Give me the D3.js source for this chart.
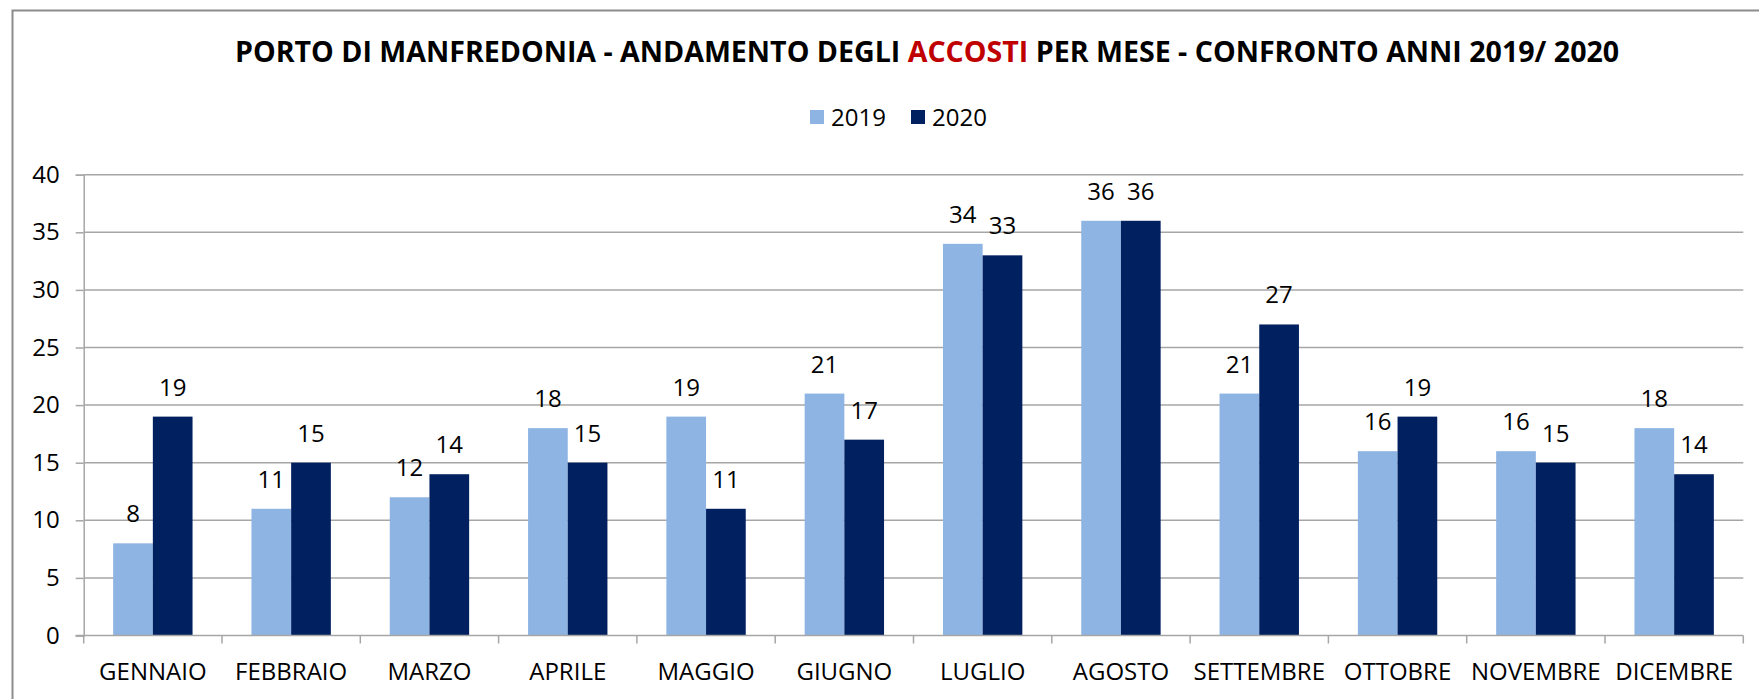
<!DOCTYPE html>
<html>
<head>
<meta charset="utf-8">
<script src="https://cdn.jsdelivr.net/npm/d3@7"></script>
<style>
  body { margin: 0; background: #fff; }
  svg { display: block; font-family: "Open Sans", sans-serif; }
</style>
</head>
<body>
<div id="chart-area"></div>
<script>
const MONTHS = ["GENNAIO", "FEBBRAIO", "MARZO", "APRILE", "MAGGIO", "GIUGNO",
  "LUGLIO", "AGOSTO", "SETTEMBRE", "OTTOBRE", "NOVEMBRE", "DICEMBRE"]
const SERIES = ["2019", "2020"]
const VALUES_2019 = [8, 11, 12, 18, 19, 21, 34, 36, 21, 16, 16, 18]
const VALUES_2020 = [19, 15, 14, 15, 11, 17, 33, 36, 27, 19, 15, 14]
const Y_TICKS = [0, 5, 10, 15, 20, 25, 30, 35, 40]

const COLORS = { "2019": "#8EB4E3", "2020": "#002060" }

const SVG_WIDTH = 1759
const SVG_HEIGHT = 699
const PLOT = { left: 83.7, right: 1743.3, top: 174.7, bottom: 635.5 }

const svg = d3.select("#chart-area").append("svg")
  .attr("width", SVG_WIDTH)
  .attr("height", SVG_HEIGHT)

// outer frame (right and bottom sides run off the picture)
svg.append("rect")
  .attr("x", 12.5)
  .attr("y", 10.5)
  .attr("width", SVG_WIDTH + 20)
  .attr("height", SVG_HEIGHT + 20)
  .attr("fill", "none")
  .attr("stroke", "#8c8c8c")
  .attr("stroke-width", 2)

const data = MONTHS.map((m, i) => ({ month: m, "2019": VALUES_2019[i], "2020": VALUES_2020[i] }))

const x = d3.scaleBand()
  .domain(MONTHS)
  .range([PLOT.left, PLOT.right])
  .paddingInner(0.426)
  .paddingOuter(0.213)

const xSeries = d3.scaleBand()
  .domain(SERIES)
  .range([0, x.bandwidth()])

const y = d3.scaleLinear()
  .domain([0, 40])
  .range([PLOT.bottom, PLOT.top])

// gridlines
svg.append("g")
  .selectAll("line")
  .data(Y_TICKS.filter(d => d > 0))
  .join("line")
  .attr("x1", PLOT.left)
  .attr("x2", PLOT.right)
  .attr("y1", d => y(d))
  .attr("y2", d => y(d))
  .attr("stroke", "#a6a6a6")
  .attr("stroke-width", 1.5)

// y axis
const yAxisCall = d3.axisLeft(y)
  .tickValues(Y_TICKS)
  .tickSize(8)
  .tickPadding(16)
const yAxis = svg.append("g")
  .attr("transform", `translate(${PLOT.left}, 0)`)
  .call(yAxisCall)
yAxis.select(".domain").attr("stroke", "#a6a6a6").attr("stroke-width", 1.5)
yAxis.selectAll(".tick line").attr("stroke", "#a6a6a6").attr("stroke-width", 1.5)
yAxis.selectAll(".tick text")
  .attr("font-size", "24px")
  .attr("font-family", "Open Sans")
  .attr("fill", "#000")

// bars
const groups = svg.append("g")
  .selectAll("g")
  .data(data)
  .join("g")
  .attr("transform", d => `translate(${x(d.month)}, 0)`)

groups.selectAll("rect")
  .data(d => SERIES.map(s => ({ key: s, value: d[s] })))
  .join("rect")
  .attr("x", d => xSeries(d.key))
  .attr("width", xSeries.bandwidth())
  .attr("y", d => y(d.value))
  .attr("height", d => y(0) - y(d.value))
  .attr("fill", d => COLORS[d.key])

groups.selectAll("text")
  .data(d => SERIES.map(s => ({ key: s, value: d[s] })))
  .join("text")
  .attr("x", d => xSeries(d.key) + xSeries.bandwidth() / 2)
  .attr("y", d => y(d.value) - 21)
  .attr("text-anchor", "middle")
  .attr("font-size", "24px")
  .attr("fill", "#000")
  .text(d => d.value)

// x axis
const xAxisCall = d3.axisBottom(x).tickSize(0).tickPadding(27)
const xAxis = svg.append("g")
  .attr("transform", `translate(0, ${PLOT.bottom})`)
  .call(xAxisCall)
xAxis.select(".domain").remove()
xAxis.selectAll(".tick text")
  .attr("font-size", "24px")
  .attr("font-family", "Open Sans")
  .attr("fill", "#000")

xAxis.append("line")
  .attr("x1", PLOT.left - 8)
  .attr("x2", PLOT.right)
  .attr("stroke", "#a6a6a6")
  .attr("stroke-width", 1.5)

xAxis.selectAll(".boundary")
  .data(d3.range(MONTHS.length + 1))
  .join("line")
  .attr("class", "boundary")
  .attr("x1", i => PLOT.left + i * x.step())
  .attr("x2", i => PLOT.left + i * x.step())
  .attr("y1", 0)
  .attr("y2", 8)
  .attr("stroke", "#a6a6a6")
  .attr("stroke-width", 1.5)

// title
const title = svg.append("text")
  .attr("x", 0)
  .attr("y", 0)
  .attr("font-size", "28px")
  .attr("font-weight", "bold")
  .attr("fill", "#000")
title.append("tspan").text("PORTO DI MANFREDONIA - ANDAMENTO DEGLI ")
title.append("tspan").attr("fill", "#C00000").text("ACCOSTI")
title.append("tspan").text(" PER MESE - CONFRONTO ANNI 2019/ 2020")
const TITLE_LEFT = 235
const TITLE_WIDTH = 1385
const titleLen = title.node().getComputedTextLength()
title.attr("transform", `translate(${TITLE_LEFT}, 62) scale(${TITLE_WIDTH / titleLen}, 1)`)

// legend
const legend = svg.append("g")
  .selectAll("g")
  .data(SERIES)
  .join("g")
  .attr("transform", (d, i) => `translate(${810 + i * 101}, 0)`)
legend.append("rect")
  .attr("x", 0)
  .attr("y", 110)
  .attr("width", 14)
  .attr("height", 14)
  .attr("fill", d => COLORS[d])
legend.append("text")
  .attr("x", 21)
  .attr("y", 126)
  .attr("font-size", "24px")
  .attr("fill", "#000")
  .text(d => d)
</script>
</body>
</html>
